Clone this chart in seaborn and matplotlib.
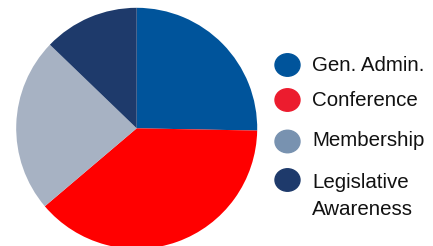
import matplotlib.pyplot as plt
import seaborn as sns
from matplotlib.patches import Ellipse

sns.set_theme(style="white")
plt.rcParams['font.family'] = ['Liberation Sans', 'DejaVu Sans']

# Data (share of budget, %)
labels = ['Gen. Admin.', 'Conference', 'Membership', 'Legislative\nAwareness']
shares = [25.3, 38.5, 23.4, 12.8]
pie_colors = ['#00549b', '#ff0000', '#a7b2c3', '#1e3a6b']
legend_colors = ['#00549b', '#ec1c2e', '#7892b0', '#1e3a6b']

W, H = 433, 246
fig = plt.figure(figsize=(W / 100, H / 100), dpi=100)

# pie axes placed in pixel units (centre ~ (136.7, 128.3), radius ~120.5)
cx, cy, r = 136.7, 128.3, 120.5
ax = fig.add_axes([(cx - r) / W, (H - cy - r) / H, 2 * r / W, 2 * r / H])
ax.pie(shares, colors=pie_colors, startangle=90, counterclock=False,
       radius=1, wedgeprops=dict(linewidth=0))
ax.set_xlim(-1, 1)
ax.set_ylim(-1, 1)
ax.set_aspect('equal')
ax.axis('off')

# legend drawn by hand (pixel layout); multi-line labels align on last baseline
marker_y = [65, 100, 141.5, 180]
text_y = [70.7, 105.7, 146.5, 215]
for lab, col, my, ty in zip(labels, legend_colors, marker_y, text_y):
    e = Ellipse((287.5 / 100, (H - my) / 100), 0.25, 0.225, color=col,
                transform=fig.dpi_scale_trans)
    fig.patches.append(e)
    fig.text(312 / W, (H - ty) / H, lab, fontsize=14.8, color='#111111',
             va='baseline', ha='left', linespacing=1.52)

fig.savefig('out.png', dpi=100)
